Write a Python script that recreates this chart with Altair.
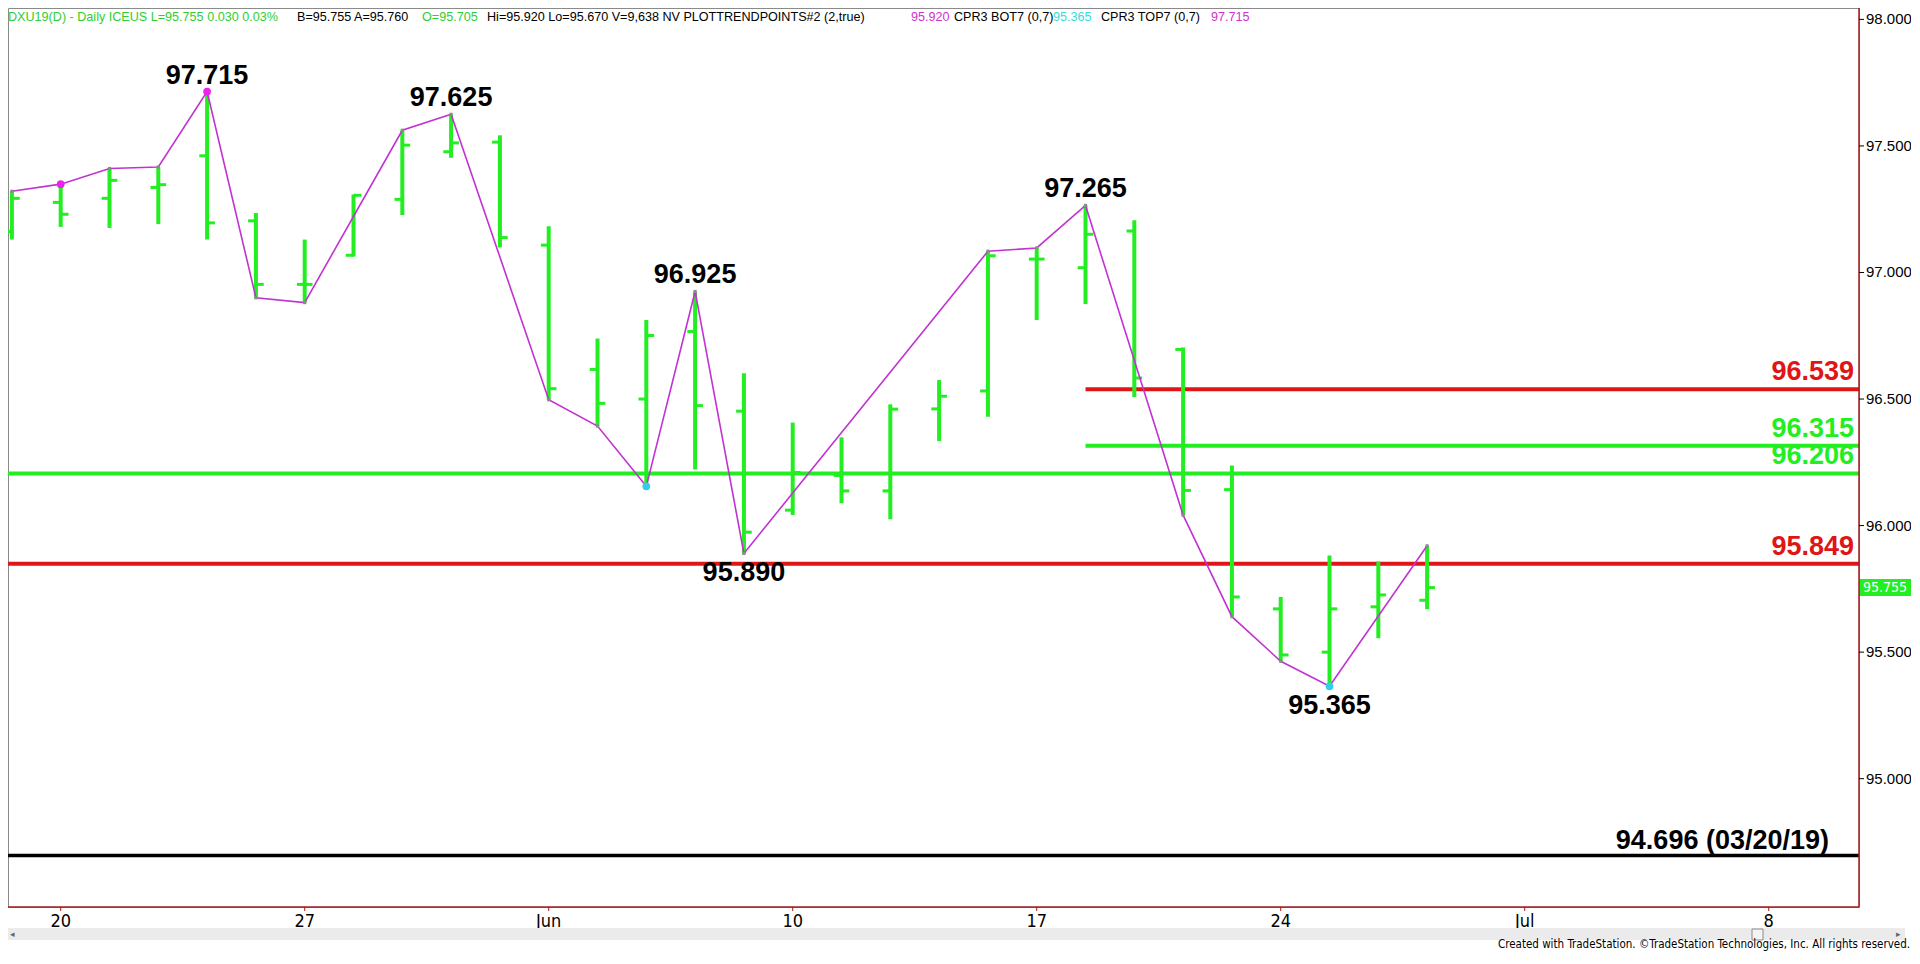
import altair as alt
import pandas as pd

# ---------------- data ----------------
bar_idx = list(range(30))  # trading days from May 17 (0) to Jun 27 (29)
bar_open = [97.162, 97.277, 97.293, 97.336, 97.461, 97.204, 96.953, 97.068, 97.289, 97.477,
            97.515, 97.108, 96.617, 96.500, 96.767, 96.452, 96.061, 96.198, 96.137, 96.461,
            96.532, 97.053, 97.019, 97.164, 96.696, 96.142, 95.671, 95.500, 95.679, 95.705]
bar_high = [97.321, 97.349, 97.411, 97.417, 97.715, 97.235, 97.130, 97.308, 97.562, 97.625,
            97.542, 97.183, 96.739, 96.812, 96.925, 96.602, 96.407, 96.349, 96.479, 96.575,
            97.084, 97.097, 97.265, 97.206, 96.704, 96.237, 95.718, 95.882, 95.858, 95.920]
bar_low = [97.130, 97.180, 97.176, 97.191, 97.130, 96.900, 96.881, 97.063, 97.227, 97.453,
           97.099, 96.497, 96.393, 96.155, 96.222, 95.890, 96.042, 96.088, 96.025, 96.334,
           96.430, 96.812, 96.875, 96.508, 96.041, 95.640, 95.464, 95.365, 95.555, 95.670]
bar_close = [97.293, 97.230, 97.364, 97.347, 97.196, 96.953, 96.953, 97.305, 97.503, 97.512,
             97.138, 96.541, 96.483, 96.751, 96.474, 95.974, 96.210, 96.137, 96.460, 96.511,
             97.066, 97.053, 97.151, 96.583, 96.139, 95.718, 95.489, 95.671, 95.726, 95.755]

swing_idx = [0, 1, 2, 3, 4, 5, 6, 8, 9, 11, 12, 13, 14, 15, 20, 21, 22, 24, 25, 26, 27, 29]
swing_price = [97.321, 97.349, 97.411, 97.417, 97.715, 96.900, 96.881, 97.562, 97.625, 96.497,
               96.393, 96.155, 96.925, 95.890, 97.084, 97.097, 97.265, 96.041, 95.640, 95.464,
               95.365, 95.920]

pivot_idx = [1, 4, 13, 27]
pivot_price = [97.349, 97.715, 96.155, 95.365]
pivot_kind = ["top", "top", "bot", "bot"]

peak_idx = [4, 9, 14, 22]
peak_price = [97.715, 97.625, 96.925, 97.265]
trough_idx = [15, 27]
trough_price = [95.890, 95.365]

level_price = [96.539, 96.315, 96.206, 95.849]
level_start = [22, 22, None, None]
level_kind = ["res", "sup", "sup", "res"]
low_price = 94.696
low_text = "94.696 (03/20/19)"

tick_idx = [1, 6, 11, 16, 21, 26, 31, 36]
tick_labels = ["20", "27", "Jun", "10", "17", "24", "Jul", "8"]
y_ticks = [95.0, 95.5, 96.0, 96.5, 97.0, 97.5, 98.0]
last_price = 95.755

header_text = ["DXU19(D) - Daily  ICEUS  L=95.755  0.030  0.03%", "B=95.755  A=95.760", "O=95.705",
               "Hi=95.920  Lo=95.670  V=9,638  NV  PLOTTRENDPOINTS#2 (2,true)", "95.920",
               "CPR3 BOT7 (0,7)", "95.365", "CPR3 TOP7 (0,7)", "97.715"]
header_color = ["#2fcf2f", "#000000", "#2fcf2f", "#000000", "#d030d0", "#000000", "#33dddd",
                "#000000", "#d030d0"]
header_x = [0, 289, 414, 479, 903, 946, 1045, 1093, 1203]  # layout (px)

footer_text = "Created with TradeStation. \u00a9TradeStation Technologies, Inc. All rights reserved."

# ---------------- style ----------------
GREEN = "#22ee22"
RED = "#e01515"
MAG = "#c232d2"
CYAN = "#33ccee"
AXRED = "#a01c1c"
NARROW = "Liberation Sans Narrow, Arial Narrow, DejaVu Sans Condensed, sans-serif"
SANS = "Liberation Sans, Arial, sans-serif"

W, H = 1851, 899
x_dom = [-0.08, 37.85]
y_dom = [94.493, 98.045]
xs = alt.Scale(domain=x_dom, nice=False, zero=False)
ys = alt.Scale(domain=y_dom, nice=False, zero=False)

bars = pd.DataFrame({"i": bar_idx, "o": bar_open, "h": bar_high, "l": bar_low, "c": bar_close})
swing = pd.DataFrame({"i": swing_idx, "p": swing_price})
pivots = pd.DataFrame({"i": pivot_idx, "p": pivot_price, "k": pivot_kind})
peaks = pd.DataFrame({"i": peak_idx, "p": peak_price, "t": [f"{v:.3f}" for v in peak_price]})
troughs = pd.DataFrame({"i": trough_idx, "p": trough_price, "t": [f"{v:.3f}" for v in trough_price]})
kind_color = {"res": RED, "sup": GREEN}
levels = pd.DataFrame({
    "p": level_price,
    "x0": [s if s is not None else x_dom[0] for s in level_start],
    "x1": [x_dom[1]] * len(level_price),
    "col": [kind_color[k] for k in level_kind],
    "t": [f"{v:.3f}" for v in level_price],
})
lowline = pd.DataFrame({"p": [low_price], "x0": [x_dom[0]], "x1": [x_dom[1]], "t": [low_text]})
header = pd.DataFrame({"t": header_text, "col": header_color, "x": header_x})
lastdf = pd.DataFrame({"p": [last_price], "t": [f"{last_price:.3f}"]})
xticks = pd.DataFrame({"i": tick_idx, "t": tick_labels})
yticks = pd.DataFrame({"v": y_ticks, "t": [f"{v:.3f}" for v in y_ticks]})

X = lambda f: alt.X(f, scale=xs, axis=None)
Y = lambda f: alt.Y(f, scale=ys, axis=None)

# level lines
lvl_lines = alt.Chart(levels).mark_rule(strokeWidth=4).encode(
    x=X("x0:Q"), x2="x1:Q", y=Y("p:Q"), color=alt.Color("col:N", scale=None))
low_line = alt.Chart(lowline).mark_rule(strokeWidth=3.5, color="#000").encode(
    x=X("x0:Q"), x2="x1:Q", y=Y("p:Q"))

# OHLC bars
hl = alt.Chart(bars).mark_rule(strokeWidth=4, color=GREEN).encode(
    x=X("i:Q"), y=Y("l:Q"), y2="h:Q")
open_t = alt.Chart(bars).transform_calculate(xa="datum.i - 0.16").mark_rule(
    strokeWidth=3, color=GREEN).encode(x=X("xa:Q"), x2="i:Q", y=Y("o:Q"))
close_t = alt.Chart(bars).transform_calculate(xb="datum.i + 0.16").mark_rule(
    strokeWidth=3, color=GREEN).encode(x=X("i:Q"), x2="xb:Q", y=Y("c:Q"))

# swing line and points
swing_line = alt.Chart(swing).mark_line(color=MAG, strokeWidth=1.6).encode(
    x=X("i:Q"), y=Y("p:Q"), order="i:Q")
swing_pts = alt.Chart(swing).mark_square(color="#8a8a8a", size=10, opacity=1).encode(
    x=X("i:Q"), y=Y("p:Q"))
pivot_pts = alt.Chart(pivots).mark_circle(size=60, opacity=1).encode(
    x=X("i:Q"), y=Y("p:Q"),
    color=alt.Color("k:N", scale=alt.Scale(domain=["top", "bot"], range=["#ee22ee", CYAN]),
                    legend=None))

# labels
peak_lbl = alt.Chart(peaks).mark_text(font=SANS, fontWeight="bold", fontSize=27, color="#000",
                                      baseline="alphabetic", dy=-8).encode(
    x=X("i:Q"), y=Y("p:Q"), text="t:N")
trough_lbl = alt.Chart(troughs).mark_text(font=SANS, fontWeight="bold", fontSize=27, color="#000",
                                          baseline="alphabetic", dy=28).encode(
    x=X("i:Q"), y=Y("p:Q"), text="t:N")
lvl_lbl = alt.Chart(levels).mark_text(font=SANS, fontWeight="bold", fontSize=27, align="right",
                                      baseline="alphabetic", dx=-5, dy=-9).encode(
    x=X("x1:Q"), y=Y("p:Q"), text="t:N", color=alt.Color("col:N", scale=None))
low_lbl = alt.Chart(lowline).mark_text(font=SANS, fontWeight="bold", fontSize=27, align="right",
                                       baseline="alphabetic", dx=-30, dy=-7, color="#000").encode(
    x=X("x1:Q"), y=Y("p:Q"), text="t:N")

# hand-drawn axes (bottom date axis, right price axis)
x_domain_line = alt.Chart(lastdf).mark_rule(color=AXRED, strokeWidth=1.5).encode(
    x=alt.value(0), x2=alt.value(W), y=alt.value(H))
y_domain_line = alt.Chart(lastdf).mark_rule(color=AXRED, strokeWidth=1.5).encode(
    x=alt.value(W), y=alt.value(0), y2=alt.value(H))
x_tick_marks = alt.Chart(xticks).mark_rule(color=AXRED, strokeWidth=1).encode(
    x=X("i:Q"), y=alt.value(H), y2=alt.value(H + 4))
x_tick_lbl = alt.Chart(xticks).mark_text(font=NARROW, fontSize=18, color="#000",
                                         baseline="top").encode(
    x=X("i:Q"), y=alt.value(H + 6), text="t:N")
y_tick_marks = alt.Chart(yticks).mark_rule(color="#000", strokeWidth=1).encode(
    x=alt.value(W), x2=alt.value(W + 5), y=Y("v:Q"))
y_tick_lbl = alt.Chart(yticks).mark_text(font=SANS, fontSize=15, color="#000", align="left",
                                         baseline="middle").encode(
    x=alt.value(W + 7), y=Y("v:Q"), text="t:N")

# current price box on the axis
price_box = alt.Chart(lastdf).mark_rule(strokeWidth=17, color="#22ee22", strokeCap="butt").encode(
    x=alt.value(W + 1), x2=alt.value(W + 52), y=Y("p:Q"))
price_txt = alt.Chart(lastdf).mark_text(font=NARROW, fontSize=14, color="#ffffff", align="left",
                                        baseline="middle").encode(
    x=alt.value(W + 4), y=Y("p:Q"), text="t:N")

# header
header_lbl = alt.Chart(header).mark_text(font=SANS, fontSize=12.6, align="left",
                                         baseline="alphabetic").encode(
    x=alt.X("x:Q", scale=None), y=alt.value(13), text="t:N",
    color=alt.Color("col:N", scale=None))

# scroll band + footer
band = alt.Chart(lastdf).mark_rect(color="#ebebeb").encode(
    x=alt.value(-8), x2=alt.value(1897), y=alt.value(920), y2=alt.value(932))
thumb = alt.Chart(lastdf).mark_rect(color="#f4f4f4", stroke="#8c8c8c", strokeWidth=1).encode(
    x=alt.value(1744), x2=alt.value(1755), y=alt.value(921), y2=alt.value(932))
arrows = alt.Chart(pd.DataFrame({"t": ["\u25c2", "\u25b8"], "x": [4, 1890]})).mark_text(
    fontSize=9, color="#666", baseline="middle").encode(
    x=alt.X("x:Q", scale=None), y=alt.value(926), text="t:N")
footer = alt.Chart(lastdf).mark_text(font=NARROW, fontSize=11.5, align="right",
                                     baseline="alphabetic", color="#000").encode(
    x=alt.value(1902), y=alt.value(940), text=alt.value(footer_text))

chart = alt.layer(
    lvl_lines, low_line, hl, open_t, close_t, swing_line, swing_pts, pivot_pts,
    peak_lbl, trough_lbl, lvl_lbl, low_lbl,
    x_domain_line, y_domain_line, x_tick_marks, x_tick_lbl, y_tick_marks, y_tick_lbl,
    price_box, price_txt, header_lbl, band, thumb, arrows, footer
).properties(
    width=W, height=H,
    autosize=alt.AutoSizeParams(type="none"),
    padding={"left": 0, "top": 0, "right": 52, "bottom": 44},
    background="#ffffff",
).configure_view(stroke="#8a8a8a", strokeWidth=1)

chart.save("out.html", embed_options={"renderer": "svg", "actions": False})
